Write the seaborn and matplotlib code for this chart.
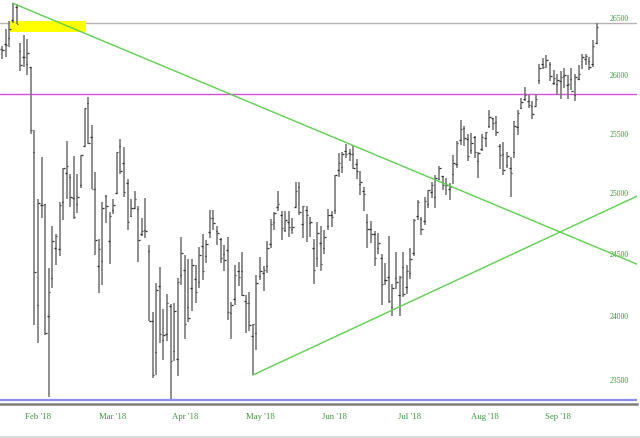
import numpy as np
import pandas as pd
import matplotlib
matplotlib.use("Agg")
import matplotlib.pyplot as plt
from matplotlib.ticker import FixedLocator, FixedFormatter, NullLocator, NullFormatter
from matplotlib.lines import Line2D
from matplotlib.patches import Rectangle
import seaborn as sns

# ---------------- data ----------------
dates = [
    "2018-01-22", "2018-01-23", "2018-01-24", "2018-01-25", "2018-01-26", "2018-01-29", "2018-01-30", "2018-01-31",
    "2018-02-01", "2018-02-02", "2018-02-05", "2018-02-06", "2018-02-07", "2018-02-08", "2018-02-09", "2018-02-12",
    "2018-02-13", "2018-02-14", "2018-02-15", "2018-02-16", "2018-02-20", "2018-02-21", "2018-02-22", "2018-02-23",
    "2018-02-26", "2018-02-27", "2018-02-28", "2018-03-01", "2018-03-02", "2018-03-05", "2018-03-06", "2018-03-07",
    "2018-03-08", "2018-03-09", "2018-03-12", "2018-03-13", "2018-03-14", "2018-03-15", "2018-03-16", "2018-03-19",
    "2018-03-20", "2018-03-21", "2018-03-22", "2018-03-23", "2018-03-26", "2018-03-27", "2018-03-28", "2018-03-29",
    "2018-04-02", "2018-04-03", "2018-04-04", "2018-04-05", "2018-04-06", "2018-04-09", "2018-04-10", "2018-04-11",
    "2018-04-12", "2018-04-13", "2018-04-16", "2018-04-17", "2018-04-18", "2018-04-19", "2018-04-20", "2018-04-23",
    "2018-04-24", "2018-04-25", "2018-04-26", "2018-04-27", "2018-04-30", "2018-05-01", "2018-05-02", "2018-05-03",
    "2018-05-04", "2018-05-07", "2018-05-08", "2018-05-09", "2018-05-10", "2018-05-11", "2018-05-14", "2018-05-15",
    "2018-05-16", "2018-05-17", "2018-05-18", "2018-05-21", "2018-05-22", "2018-05-23", "2018-05-24", "2018-05-25",
    "2018-05-29", "2018-05-30", "2018-05-31", "2018-06-01", "2018-06-04", "2018-06-05", "2018-06-06", "2018-06-07",
    "2018-06-08", "2018-06-11", "2018-06-12", "2018-06-13", "2018-06-14", "2018-06-15", "2018-06-18", "2018-06-19",
    "2018-06-20", "2018-06-21", "2018-06-22", "2018-06-25", "2018-06-26", "2018-06-27", "2018-06-28", "2018-06-29",
    "2018-07-02", "2018-07-03", "2018-07-05", "2018-07-06", "2018-07-09", "2018-07-10", "2018-07-11", "2018-07-12",
    "2018-07-13", "2018-07-16", "2018-07-17", "2018-07-18", "2018-07-19", "2018-07-20", "2018-07-23", "2018-07-24",
    "2018-07-25", "2018-07-26", "2018-07-27", "2018-07-30", "2018-07-31", "2018-08-01", "2018-08-02", "2018-08-03",
    "2018-08-06", "2018-08-07", "2018-08-08", "2018-08-09", "2018-08-10", "2018-08-13", "2018-08-14", "2018-08-15",
    "2018-08-16", "2018-08-17", "2018-08-20", "2018-08-21", "2018-08-22", "2018-08-23", "2018-08-24", "2018-08-27",
    "2018-08-28", "2018-08-29", "2018-08-30", "2018-08-31", "2018-09-04", "2018-09-05", "2018-09-06", "2018-09-07",
    "2018-09-10", "2018-09-11", "2018-09-12", "2018-09-13", "2018-09-14", "2018-09-17", "2018-09-18", "2018-09-19",
]

opens = [
    26025, 26214, 26264, 26313, 26467, 26584, 26198, 26151,
    26084, 26062, 25338, 24086, 24894, 24903, 23992, 24302,
    24540, 24535, 24923, 25165, 25124, 24955, 24900, 25064,
    25383, 25755, 25467, 25025, 24400, 24440, 24970, 24600,
    24852, 24993, 25386, 25247, 25077, 24808, 24873, 24866,
    24658, 24690, 24522, 23959, 23713, 24238, 23808, 23852,
    24076, 23719, 23657, 24326, 24368, 24065, 24218, 24291,
    24268, 24563, 24480, 24671, 24789, 24685, 24617, 24495,
    24527, 24022, 24134, 24357, 24357, 24117, 24098, 23836,
    23865, 24317, 24341, 24399, 24577, 24758, 24878, 24815,
    24694, 24755, 24701, 24883, 25047, 24736, 24856, 24750,
    24547, 24462, 24582, 24542, 24724, 24813, 24854, 25188,
    25213, 25341, 25327, 25316, 25234, 25072, 25008, 24759,
    24697, 24660, 24545, 24458, 24286, 24308, 24068, 24298,
    24161, 24386, 24224, 24344, 24500, 24808, 24778, 24763,
    24906, 25001, 24958, 25110, 25132, 25071, 25031, 25151,
    25237, 25440, 25539, 25447, 25350, 25460, 25264, 25361,
    25458, 25552, 25622, 25587, 25388, 25316, 25228, 25201,
    25339, 25548, 25708, 25784, 25771, 25722, 25727, 25948,
    26086, 26063, 26090, 25926, 25916, 25936, 25986, 25902,
    25960, 25823, 25959, 26052, 26134, 26116, 26085, 26265,
]

highs = [
    26215, 26246, 26393, 26458, 26617, 26608, 26270, 26338,
    26306, 26062, 25520, 24946, 25294, 24903, 24382, 24720,
    24659, 24924, 25203, 25432, 25150, 25300, 25150, 25310,
    25709, 25800, 25564, 25170, 24614, 24917, 24977, 24834,
    24947, 25336, 25449, 25378, 25114, 24946, 25014, 24891,
    24791, 24954, 24567, 24026, 24262, 24390, 24055, 24172,
    24088, 24101, 24299, 24629, 24489, 24450, 24457, 24405,
    24554, 24658, 24609, 24858, 24858, 24725, 24625, 24566,
    24635, 24109, 24405, 24428, 24514, 24164, 24186, 23930,
    24323, 24469, 24398, 24597, 24779, 24841, 25015, 24849,
    24850, 24848, 24787, 25086, 25086, 24888, 24887, 24796,
    24617, 24758, 24725, 24687, 24864, 24842, 25146, 25326,
    25336, 25402, 25360, 25391, 25280, 25175, 25044, 24821,
    24764, 24683, 24666, 24497, 24420, 24638, 24253, 24509,
    24320, 24507, 24403, 24542, 24780, 24936, 24795, 24961,
    25020, 25083, 25144, 25216, 25138, 25121, 25080, 25312,
    25432, 25603, 25553, 25485, 25496, 25470, 25339, 25486,
    25509, 25692, 25624, 25638, 25405, 25422, 25334, 25291,
    25600, 25693, 25793, 25888, 25820, 25767, 25826, 26083,
    26135, 26167, 26108, 26034, 26002, 26030, 26053, 25996,
    26051, 26002, 26082, 26172, 26176, 26151, 26298, 26444,
]

lows = [
    25998, 26134, 26150, 26233, 26440, 26435, 26024, 26065,
    25990, 25490, 23924, 23779, 24786, 23849, 23360, 24220,
    24407, 24482, 24770, 24945, 24880, 24780, 24830, 25040,
    25383, 25400, 25025, 24487, 24177, 24245, 24750, 24417,
    24819, 24986, 25150, 24963, 24693, 24794, 24874, 24430,
    24637, 24628, 23954, 23509, 23533, 23780, 23645, 23800,
    23344, 23644, 23524, 24247, 23813, 23946, 24037, 24101,
    24221, 24287, 24420, 24627, 24694, 24567, 24422, 24357,
    23962, 23812, 24087, 24238, 24157, 23863, 23880, 23531,
    23727, 24282, 24195, 24343, 24546, 24693, 24846, 24611,
    24670, 24630, 24658, 24883, 24812, 24626, 24589, 24633,
    24252, 24385, 24360, 24491, 24693, 24716, 24820, 25125,
    25158, 25287, 25263, 25195, 25109, 24977, 24843, 24542,
    24587, 24401, 24495, 24084, 24241, 24100, 23997, 24215,
    23997, 24145, 24171, 24290, 24481, 24776, 24646, 24731,
    24868, 24952, 24874, 25106, 25018, 24976, 24935, 25067,
    25204, 25396, 25389, 25260, 25322, 25286, 25120, 25341,
    25375, 25536, 25520, 25470, 25198, 25147, 25202, 24965,
    25289, 25483, 25702, 25772, 25707, 25612, 25724, 25912,
    26045, 26058, 25939, 25906, 25818, 25784, 25876, 25782,
    25860, 25770, 25949, 26050, 26077, 26031, 26060, 26256,
]

closes = [
    26214, 26210, 26252, 26392, 26617, 26439, 26077, 26149,
    26186, 25521, 24346, 24913, 24893, 23860, 24191, 24601,
    24640, 24893, 25201, 25219, 24965, 24798, 24963, 25310,
    25709, 25410, 25029, 24608, 24538, 24874, 24885, 24801,
    24895, 25336, 25179, 25007, 24759, 24873, 24947, 24611,
    24683, 24683, 23958, 23533, 24202, 23857, 23849, 24103,
    23644, 24034, 24264, 24505, 23933, 23979, 24408, 24190,
    24483, 24360, 24573, 24786, 24748, 24665, 24463, 24448,
    24024, 24083, 24322, 24311, 24163, 24100, 23925, 23930,
    24263, 24357, 24361, 24543, 24740, 24831, 24900, 24707,
    24769, 24714, 24715, 25013, 24834, 24887, 24812, 24753,
    24361, 24667, 24416, 24635, 24813, 24800, 25146, 25241,
    25317, 25322, 25320, 25201, 25175, 25090, 24988, 24700,
    24658, 24462, 24581, 24253, 24284, 24118, 24216, 24271,
    24307, 24175, 24357, 24457, 24776, 24920, 24700, 24925,
    25019, 25064, 25120, 25199, 25064, 25058, 25044, 25241,
    25414, 25527, 25451, 25306, 25415, 25333, 25327, 25463,
    25502, 25629, 25583, 25509, 25313, 25187, 25299, 25162,
    25558, 25669, 25758, 25822, 25733, 25656, 25790, 26050,
    26065, 26125, 25986, 25965, 25953, 25975, 25995, 25917,
    25857, 25971, 25998, 26145, 26154, 26062, 26246, 26405,
]

# horizontal reference levels
resistance_level = 26440
pivot_level = 25830
support_level = 23339
highlight_range = [26362, 26458]
highlight_dates = ["2018-01-25", "2018-02-26"]

# trend lines: (anchor date, value)
falling_trend = [("2018-01-26", 26617), ("2018-09-19", 24549)]
rising_trend = [("2018-05-03", 23531), ("2018-09-19", 24813)]

month_labels = ["Feb '18", "Mar '18", "Apr '18", "May '18", "Jun '18", "Jul '18", "Aug '18", "Sep '18"]
month_label_pos = [10.98, 31.9, 52.2, 73.0, 93.9, 114.9, 135.7, 156.1]

y_ticks = [23500, 24000, 24500, 25000, 25500, 26000, 26500]
y_tick_labels = ["23500", "24000", "24500", "25000", "25500", "26000", "26500"]

# ---------------- build frame ----------------
df = pd.DataFrame({"date": dates, "open": opens, "high": highs, "low": lows, "close": closes})
df["idx"] = np.arange(len(df))
pos = dict(zip(df["date"], df["idx"]))

sns.set_theme(style="white")
plt.rcParams["font.family"] = ["Liberation Serif", "DejaVu Serif"]

W, H = 640, 439
fig = plt.figure(figsize=(W / 100, H / 100), dpi=100)
ax = fig.add_axes([0, 34 / H, 637 / W, (H - 34) / H])
ax.set_facecolor("white")

ax.set_yscale("log")
ax.set_xlim(0.37, 178.3)
ax.set_ylim(23306, 26655)

# horizontal levels
ax.axhline(resistance_level, color="#b4b4b4", lw=1.0, zorder=1)
ax.axhline(pivot_level, color="#d64fd6", lw=1.0, zorder=1)
ax.axhline(support_level, color="#8c8cf5", lw=1.6, zorder=1)

# yellow highlight
x0 = pos[highlight_dates[0]] + 0.16
x1 = pos[highlight_dates[1]] + 0.4
ax.add_patch(Rectangle((x0, highlight_range[0]), x1 - x0, highlight_range[1] - highlight_range[0],
                       facecolor="#ffff00", edgecolor="none", zorder=2))

# OHLC bars
ax.vlines(df["idx"], df["low"], df["high"], color="#7a7a7a", lw=1.2, zorder=3)
tick = 0.42
ax.hlines(df["open"], df["idx"] - tick, df["idx"], color="#2b2b2b", lw=0.9, zorder=4)
ax.hlines(df["close"], df["idx"], df["idx"] + tick, color="#2b2b2b", lw=0.9, zorder=4)

# trend lines, extended to the right edge of the plot
def extend(points, x_end):
    (d0, v0), (d1, v1) = points
    xa, xb = pos[d0], pos[d1]
    slope = (np.log(v1) - np.log(v0)) / (xb - xa)
    return pd.DataFrame({"x": [xa, x_end], "y": [v0, float(np.exp(np.log(v0) + slope * (x_end - xa)))]})

for pts in (falling_trend, rising_trend):
    seg = extend(pts, 179)
    sns.lineplot(data=seg, x="x", y="y", ax=ax, color="#5fcf50", lw=1.0, zorder=5)

# axes styling
for s in ("top", "left", "right"):
    ax.spines[s].set_visible(False)
ax.spines["bottom"].set_color("#7f7f7f")
ax.spines["bottom"].set_linewidth(1.8)
ax.set_xlabel("")
ax.set_ylabel("")

ax.xaxis.set_major_locator(FixedLocator(month_label_pos))
ax.xaxis.set_major_formatter(FixedFormatter(month_labels))
ax.tick_params(axis="x", length=0, pad=5.5, labelsize=6.3, labelcolor="#3a9a3a")

ax.yaxis.tick_right()
ax.yaxis.set_major_locator(FixedLocator(y_ticks))
ax.yaxis.set_major_formatter(FixedFormatter(y_tick_labels))
ax.yaxis.set_minor_locator(NullLocator())
ax.yaxis.set_minor_formatter(NullFormatter())
ax.tick_params(axis="y", length=0, pad=-19.5, labelsize=5.6, labelcolor="#3a9a3a")
ax.grid(False)

fig.add_artist(Line2D([0, 1], [1.5 / H, 1.5 / H], color="#d8d8d8", lw=2.0, transform=fig.transFigure))

fig.savefig("out.png", dpi=100)
